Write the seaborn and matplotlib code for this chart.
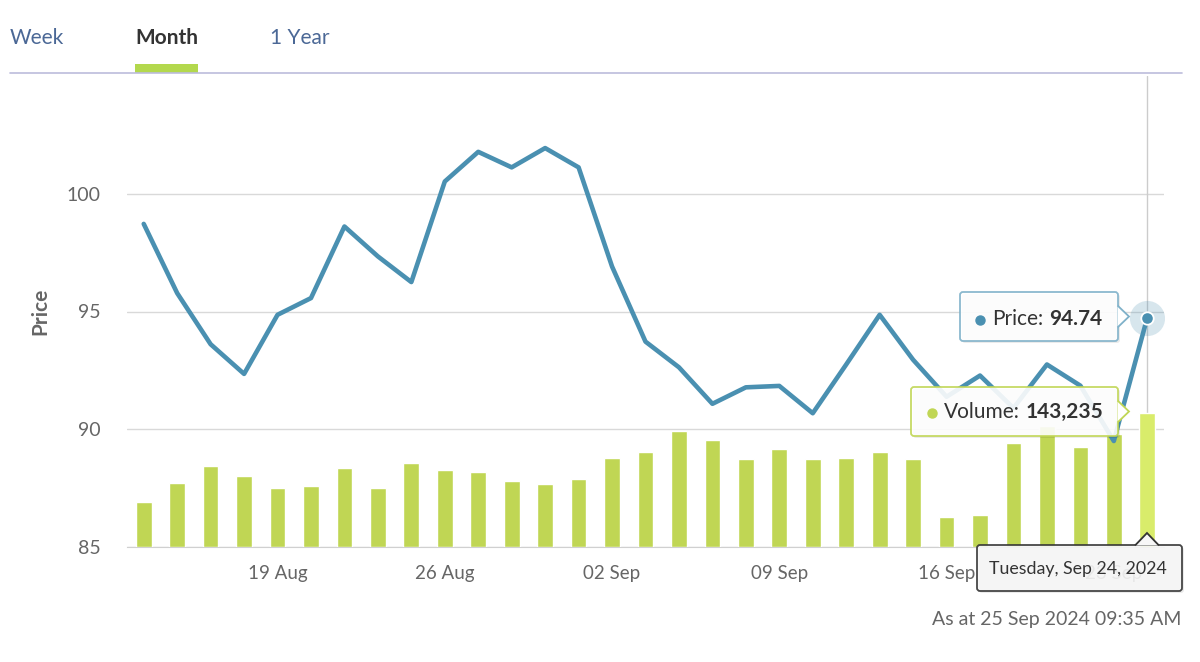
import pandas as pd
import matplotlib.pyplot as plt
from matplotlib.patches import FancyBboxPatch, Polygon
import seaborn as sns

# trading days shown in the "Month" view
dates = pd.bdate_range("2024-08-13", "2024-09-24")
price = [98.72, 95.78, 93.61, 92.35, 94.86, 95.57, 98.61, 97.34, 96.25, 100.52,
         101.78, 101.12, 101.94, 101.12, 96.91, 93.72, 92.63, 91.08, 91.78, 91.84,
         90.68, 92.75, 94.86, 92.95, 91.38, 92.28, 90.90, 92.75, 91.85, 89.50, 94.74]
volume = [47800, 69100, 86400, 76600, 63400, 65100, 84200, 63400, 90300, 82400,
          80600, 71200, 67300, 72600, 95700, 101500, 124900, 114700, 93900, 105400,
          93900, 95700, 101500, 93900, 32700, 34500, 111200, 129900, 107200, 120900, 143235]
price_ticks = [85, 90, 95, 100]

LINE = "#4a90b1"
BAR = "#c0d654"
BAR_HOVER = "#d9ec6b"
GREY = "#666666"

df = pd.DataFrame({"pos": range(len(dates)), "price": price, "volume": volume})

sns.set_style("white")
plt.rcParams["font.family"] = ["Lato", "DejaVu Sans"]

fig = plt.figure(figsize=(12, 6.62), dpi=100)
ax = fig.add_axes([127 / 1200, 1 - 547 / 662, 1037 / 1200, 471 / 662])
axv = ax.twinx()
axl = ax.twinx()
ax.set_zorder(1)
axv.set_zorder(2)
axl.set_zorder(3)
axv.patch.set_visible(False)
axl.patch.set_visible(False)

# volume bars
sns.barplot(data=df, x="pos", y="volume", ax=axv, color=BAR, saturation=1, width=0.47)
axv.patches[-1].set_facecolor(BAR_HOVER)
axv.set_ylim(0, 505000)
axv.axis("off")

# price line + hovered point
sns.lineplot(data=df, x="pos", y="price", ax=axl, color=LINE, linewidth=3.3)
last = df.iloc[-1]
axl.scatter([last.pos], [last.price], s=640, color=LINE, alpha=0.22, lw=0)
axl.scatter([last.pos], [last.price], s=80, color=LINE, edgecolor="white", lw=1.3, zorder=5)
axl.set_ylim(85, 105)
axl.axis("off")

# main axis: grid, ticks
ax.set_ylim(85, 105)
ax.set_xlim(-0.5, len(dates) - 0.5)
ax.set_yticks(price_ticks)
ax.grid(axis="y", color="#d9d9d9", lw=1)
ax.axvline(len(dates) - 1, color="#cccccc", lw=1)
mondays = [i for i, d in enumerate(dates) if d.weekday() == 0]
ax.set_xticks(mondays, [dates[i].strftime("%d %b") for i in mondays])
ax.tick_params(axis="x", length=7, width=1, color="#d0d0d0", labelcolor=GREY, labelsize=13.5, pad=6)
ax.tick_params(axis="y", length=0, labelcolor=GREY, labelsize=14, pad=19)
for s in ["left", "right", "top"]:
    ax.spines[s].set_visible(False)
ax.spines["bottom"].set_color("#d0d0d0")
ax.set_ylabel("Price", fontsize=15, fontweight="bold", color=GREY)
ax.yaxis.set_label_coords(-0.074, 0.5)

# overlay in pixel coordinates for tabs and tooltips
ov = fig.add_axes([0, 0, 1, 1], zorder=10)
ov.set_xlim(0, 1200)
ov.set_ylim(662, 0)
ov.axis("off")
ov.patch.set_visible(False)

ov.text(10, 38, "Week", fontsize=15, color="#4b6896", va="center")
ov.text(135, 38, "Month", fontsize=15, color="#333333", fontweight="bold", va="center")
ov.text(270, 38, "1 Year", fontsize=15, color="#4b6896", va="center")
ov.plot([10, 1182], [73, 73], color="#bcbcdc", lw=1.2)
ov.add_patch(plt.Rectangle((135, 64), 63, 9, color="#b3d84d", lw=0))


def tooltip(x0, y0, x1, y1, edge, face, tip, side):
    ov.add_patch(FancyBboxPatch((x0 + 2, y0 + 2), x1 - x0, y1 - y0,
                                boxstyle="round,pad=0,rounding_size=3",
                                fc="black", alpha=0.08, lw=0))
    ov.add_patch(FancyBboxPatch((x0, y0), x1 - x0, y1 - y0,
                                boxstyle="round,pad=0,rounding_size=3",
                                fc=face, ec=edge, lw=1.3, alpha=0.9))
    tx, ty = tip
    if side == "right":
        pts = [(x1 - 0.5, ty - 11), (tx, ty), (x1 - 0.5, ty + 11)]
    else:
        pts = [(tx - 12, y0 + 0.5), (tx, ty), (tx + 12, y0 + 0.5)]
    ov.add_patch(Polygon(pts, closed=False, fc=face, ec=edge, lw=1.3))


def tip_text(x, y, label, value, dot_color):
    ov.plot(x - 12, y + 1, "o", ms=6.5, color=dot_color)
    t = ov.text(x, y, label, fontsize=15, color="#333333", va="center")
    ov.annotate(value, xy=(1, 0.5), xycoords=t, xytext=(4, 0), textcoords="offset points",
                fontsize=15, color="#333333", fontweight="bold", va="center", ha="left")


tooltip(960, 292, 1118, 341, "#7fb1c9", "white", (1129, 316.5), "right")
tip_text(992, 319, "Price:", "94.74", LINE)

tooltip(911, 387, 1118, 436, "#c0d654", "white", (1129, 411.5), "right")
tip_text(944, 412, "Volume:", "143,235", BAR)

tooltip(977, 545, 1182, 591, "#333333", "#f7f7f7", (1147, 533), "up")
ov.text(1078, 569, "Tuesday, Sep 24, 2024", fontsize=12.8, color="#333333", va="center", ha="center")

ov.text(1181, 619, "As at 25 Sep 2024 09:35 AM", fontsize=14, color=GREY, va="center", ha="right")

fig.savefig("out.png", dpi=100)
